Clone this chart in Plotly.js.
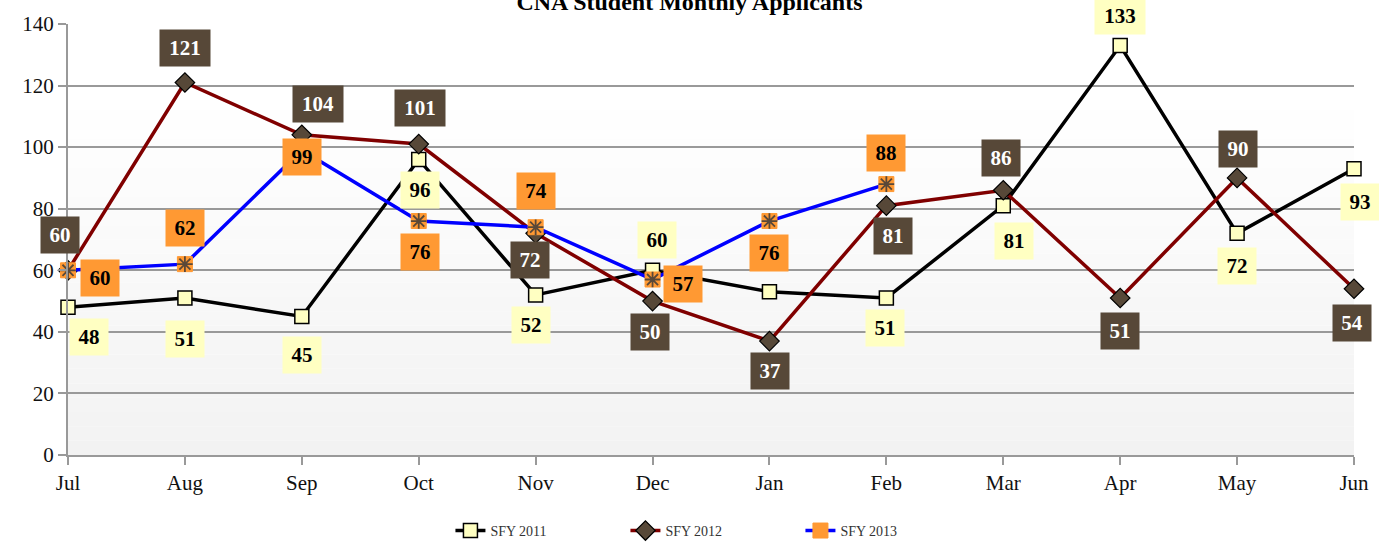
<!DOCTYPE html>
<html>
<head>
<meta charset="utf-8">
<script src="https://cdn.plot.ly/plotly-3.0.1.min.js"></script>
<style>html,body{margin:0;padding:0;background:#fff;}#chart{width:1379px;height:544px;}</style>
</head>
<body>
<div id="chart"></div>
<script>
const months = ['Jul','Aug','Sep','Oct','Nov','Dec','Jan','Feb','Mar','Apr','May','Jun'];
const sfy2011 = [48,51,45,96,52,60,53,51,81,133,72,93];
const sfy2012 = [60,121,104,101,72,50,37,81,86,51,90,54];
const sfy2013 = [60,62,99,76,74,57,76,88];
const seriesNames = ['SFY 2011','SFY 2012','SFY 2013'];

// label placement (pixel shifts), styling only
const off2011 = [[21,-30],[0,-41],[0,-39],[1,-31],[-5,-30],[4,30],null,[-1,-30],[11,-35],[0,30],[0,-33],[6,-33]];
const off2012 = [[-8,35],[0,34],[16,31],[1,36],[-6,-27],[-3,-31],[1,-30],[7,-30],[-2,32],[0,-33],[1,29],[-2,-34]];
const off2013 = [[32,-8],[0,36],[0,-7],[1,-31],[0,36],[30,-4],[0,-32],[0,31]];

const cYellow = '#ffffc2', cBrown = '#574838', cOrange = '#ff9933';
const serif = 'Liberation Serif, Times New Roman, serif';

const traces = [
  {x: months, y: sfy2011, name: seriesNames[0], type: 'scatter', mode: 'lines+markers',
   line: {color: '#000000', width: 3.5},
   marker: {symbol: 'square', size: 14, color: cYellow, line: {color: '#000', width: 1.5}},
   cliponaxis: false},
  {x: months, y: sfy2012, name: seriesNames[1], type: 'scatter', mode: 'lines+markers',
   line: {color: '#800000', width: 3.5},
   marker: {symbol: 'diamond', size: 15, color: cBrown, line: {color: '#000', width: 1.2}},
   cliponaxis: false},
  {x: months.slice(0, sfy2013.length), y: sfy2013, name: seriesNames[2], type: 'scatter', mode: 'lines+markers',
   line: {color: '#0000ff', width: 3.5},
   marker: {symbol: 'square', size: 15, color: cOrange, line: {color: cOrange, width: 1}},
   cliponaxis: false},
  {x: months.slice(0, sfy2013.length), y: sfy2013, name: seriesNames[2], type: 'scatter', mode: 'markers',
   showlegend: false, hoverinfo: 'skip',
   marker: {symbol: 'asterisk-open', size: 13, color: '#5a4838', line: {color: '#5a4838', width: 1.8}},
   cliponaxis: false}
];

const annotations = [];
function addLabels(vals, offs, bg, fg) {
  vals.forEach((v, i) => {
    const o = offs[i];
    if (!o) return;
    const s = String(v);
    annotations.push({
      x: months[i], y: v, xref: 'x', yref: 'y', showarrow: false,
      text: '<b>' + s + '</b>', xshift: o[0], yshift: o[1],
      bgcolor: bg, font: {family: serif, size: 21, color: fg},
      width: s.length > 2 ? 44 : 32, height: 30, borderpad: 3, align: 'center', valign: 'middle'
    });
  });
}
addLabels(sfy2011, off2011, cYellow, '#000');
addLabels(sfy2012, off2012, cBrown, '#fff');
addLabels(sfy2013, off2013, cOrange, '#000');

// background gradient bands
const shapes = [];
const nb = 30;
for (let k = 0; k < nb; k++) {
  const t = k / nb;
  const f = Math.min(1, t / 0.8);
  const g = Math.round(242 + (255 - 242) * f);
  shapes.push({type: 'rect', xref: 'paper', yref: 'paper', x0: 0, x1: 1, y0: t, y1: (k + 1) / nb,
    fillcolor: 'rgb(' + g + ',' + g + ',' + g + ')', line: {width: 0}, layer: 'below'});
}

const layout = {
  width: 1379, height: 544,
  margin: {l: 68, r: 25, t: 24, b: 89, autoexpand: false},
  paper_bgcolor: '#ffffff', plot_bgcolor: '#ffffff',
  title: {text: '<b>CNA Student Monthly Applicants</b>', font: {family: serif, size: 24, color: '#000'},
          x: 0.5, xanchor: 'center', xref: 'container', y: 0.997, yref: 'container', yanchor: 'middle', automargin: false},
  xaxis: {type: 'category', range: [0, 11], showgrid: false, showline: true, linecolor: '#999', linewidth: 2,
          ticks: 'outside', ticklen: 8, tickcolor: '#999', tickwidth: 2,
          tickfont: {family: serif, size: 21, color: '#111'}, zeroline: false, fixedrange: true},
  yaxis: {range: [0, 140], dtick: 20, showgrid: true, gridcolor: '#999', gridwidth: 2,
          showline: true, linecolor: '#999', linewidth: 2, ticks: 'outside', ticklen: 8, tickcolor: '#999', tickwidth: 2,
          tickfont: {family: serif, size: 21, color: '#111'}, zeroline: false, fixedrange: true},
  showlegend: true,
  legend: {orientation: 'h', x: 0.517, xanchor: 'center', xref: 'container', y: 0.024, yanchor: 'middle', yref: 'container',
           font: {family: serif, size: 14, color: '#333'}, traceorder: 'normal',
           entrywidth: 130, entrywidthmode: 'pixels', itemsizing: 'trace'},
  annotations: annotations,
  shapes: shapes
};

Plotly.newPlot('chart', traces, layout, {displayModeBar: false, staticPlot: true});
</script>
</body>
</html>
